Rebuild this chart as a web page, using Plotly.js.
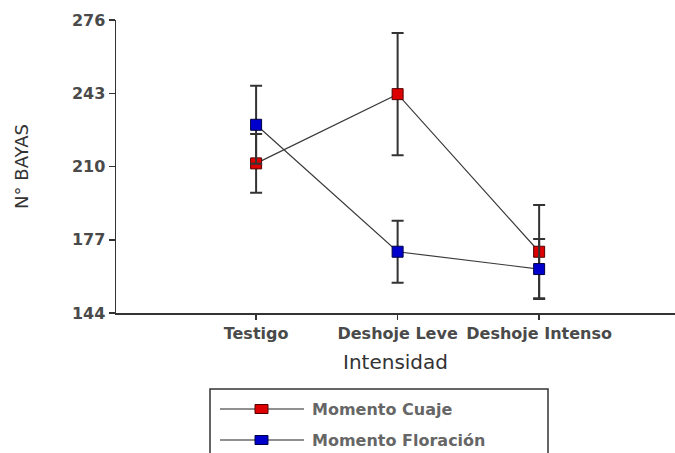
<!DOCTYPE html>
<html>
<head>
<meta charset="utf-8">
<script src="https://cdn.plot.ly/plotly-3.0.1.min.js"></script>
<style>
  html, body { margin: 0; padding: 0; background: #fff; }
  #chart { width: 675px; height: 453px; }
</style>
</head>
<body>
<div id="chart"></div>
<script>
// ---- data ----
var categories = ['Testigo', 'Deshoje Leve', 'Deshoje Intenso'];
var seriesNames = ['Momento Cuaje', 'Momento Floración'];
var cuajeValues = [211.4, 242.6, 171.6];
var cuajeErrors = [13.2, 27.5, 21.0];
var floracionValues = [228.8, 171.6, 163.8];
var floracionErrors = [17.6, 14.0, 13.5];
var yTickValues = [144, 177, 210, 243, 276];
var xTitle = 'Intensidad';
var yTitle = 'N° BAYAS';

// ---- styles ----
var FONT = 'DejaVu Sans, Verdana, sans-serif';
var colors = ['#dd0000', '#0000cc'];
var borderColors = ['#550000', '#000044'];
var W = 675, H = 453;
var M = {l: 116, r: 0, t: 20, b: 140};
var PW = W - M.l - M.r, PH = H - M.t - M.b;
function px(x) { return (x - M.l) / PW; }
function py(y) { return (M.t + PH - y) / PH; }

function makeTrace(name, vals, errs, i) {
  return {
    type: 'scatter', mode: 'lines+markers', name: name,
    x: categories, y: vals,
    line: {color: '#3a3a3a', width: 1.2},
    marker: {symbol: 'square', size: 11, color: colors[i], line: {color: borderColors[i], width: 1}},
    error_y: {type: 'data', array: errs, visible: true, color: '#333333', thickness: 2, width: 6},
    showlegend: false, cliponaxis: false
  };
}

var traces = [
  makeTrace(seriesNames[0], cuajeValues, cuajeErrors, 0),
  makeTrace(seriesNames[1], floracionValues, floracionErrors, 1)
];

// ---- manual legend (box, line glyphs, text) ----
var shapes = [];
var annotations = [];
shapes.push({type: 'rect', xref: 'paper', yref: 'paper', x0: px(210), x1: px(548), y0: py(389), y1: py(475),
  line: {color: '#333333', width: 1.5}, fillcolor: 'rgba(0,0,0,0)'});
var rowsY = [409, 440];
for (var i = 0; i < seriesNames.length; i++) {
  var ry = rowsY[i];
  shapes.push({type: 'line', xref: 'paper', yref: 'paper', x0: px(220), x1: px(304), y0: py(ry), y1: py(ry),
    line: {color: '#222222', width: 1.2}});
  shapes.push({type: 'rect', xref: 'paper', yref: 'paper', x0: px(255), x1: px(268), y0: py(ry - 4.5), y1: py(ry + 4.5),
    line: {color: borderColors[i], width: 1}, fillcolor: colors[i]});
  annotations.push({xref: 'paper', yref: 'paper', x: px(310), y: py(ry), xanchor: 'left', yanchor: 'middle',
    text: seriesNames[i], showarrow: false, font: {family: FONT, size: 16, weight: 'bold', color: '#666666'}});
}

var layout = {
  width: W, height: H,
  margin: M,
  paper_bgcolor: '#ffffff', plot_bgcolor: '#ffffff',
  showlegend: false,
  font: {family: FONT, color: '#333333'},
  xaxis: {
    type: 'category', range: [-0.99, 2.96],
    showline: true, linecolor: '#333333', linewidth: 1.5,
    ticks: 'outside', ticklen: 5, tickwidth: 1.5, tickcolor: '#333333',
    showgrid: false, zeroline: false,
    tickfont: {family: FONT, size: 16, weight: 'bold', color: '#4a4a4a'},
    title: {text: xTitle, font: {family: FONT, size: 20, color: '#333333'}, standoff: 13},
    automargin: false
  },
  yaxis: {
    range: [144, 276], tickvals: yTickValues,
    showline: true, linecolor: '#333333', linewidth: 1.5,
    ticks: 'outside', ticklen: 6, tickwidth: 1.5, tickcolor: '#333333',
    showgrid: false, zeroline: false,
    tickfont: {family: FONT, size: 16, weight: 'bold', color: '#4a4a4a'},
    title: {text: yTitle, font: {family: FONT, size: 18, color: '#333333'}, standoff: 38},
    automargin: false
  },
  shapes: shapes,
  annotations: annotations
};

Plotly.newPlot('chart', traces, layout, {displayModeBar: false, staticPlot: true});
</script>
</body>
</html>
